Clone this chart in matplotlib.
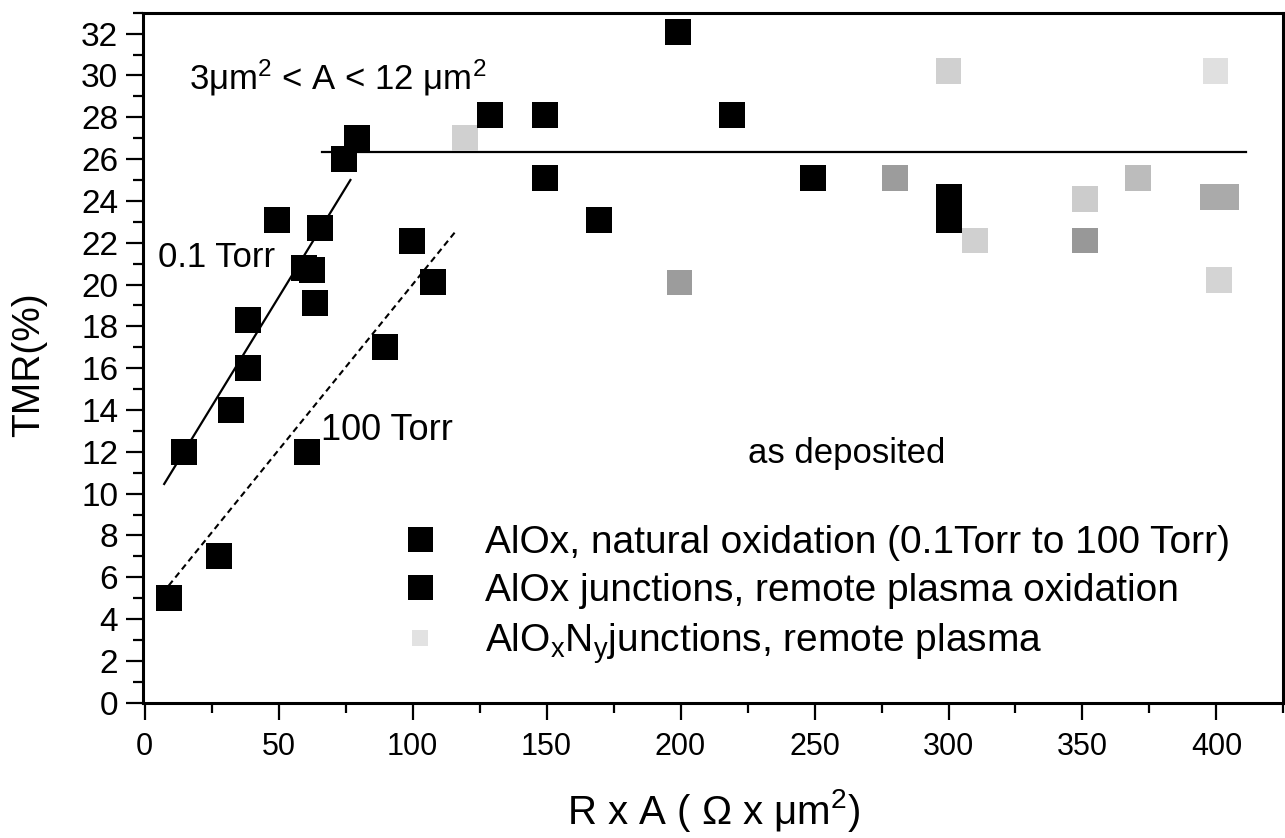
import matplotlib
matplotlib.use('Agg')
import matplotlib.pyplot as plt
from matplotlib.ticker import MultipleLocator
from matplotlib.lines import Line2D

plt.rcParams['font.family'] = ['Liberation Sans', 'DejaVu Sans']
plt.rcParams['mathtext.fontset'] = 'custom'
plt.rcParams['mathtext.rm'] = 'Liberation Sans'
plt.rcParams['mathtext.it'] = 'Liberation Sans'

# AlOx, natural oxidation (0.1 Torr .. 100 Torr)
nat_x = [9.1, 14.7, 27.8, 32.1, 38.4, 38.4, 49.3, 59.5, 62.6, 63.6, 65.4, 60.7, 74.4, 79.4, 89.6, 99.6, 107.7]
nat_y = [5.0, 12.0, 7.0, 14.0, 16.0, 18.3, 23.1, 20.8, 20.7, 19.1, 22.7, 12.0, 26.0, 27.0, 17.0, 22.1, 20.1]

# AlOx junctions, remote plasma oxidation
rpo_x = [129, 149.6, 149.6, 169.7, 199.2, 219.3, 249.5, 300, 300]
rpo_y = [28.1, 28.1, 25.1, 23.1, 32.1, 28.1, 25.1, 24.2, 23.1]

# AlOxNy junctions, remote plasma
aon_x = [119.5, 199.6, 280, 300, 309.9, 350.9, 350.9, 370.8, 398.5, 403.5, 399.6, 401]
aon_y = [27.0, 20.1, 25.1, 30.2, 22.1, 24.1, 22.1, 25.1, 24.2, 24.2, 30.2, 20.2]

# fitted guide lines
fit01_x = [7.3, 76.8]
fit01_y = [10.46, 25.0]
plateau_x = [66.3, 411]
plateau_y = [26.35, 26.35]
fit100_x = [9, 115.8]
fit100_y = [5.6, 22.5]

# grey tones of the scanned AlOxNy symbols
aon_shade = ['#d0d0d0', '#9c9c9c', '#9c9c9c', '#d0d0d0', '#d0d0d0', '#cccccc',
             '#989898', '#bcbcbc', '#aaaaaa', '#aaaaaa', '#e0e0e0', '#d4d4d4']

fig = plt.figure(figsize=(12.85, 8.38), dpi=100)
ax = fig.add_axes([0.1115, 0.1615, 0.8873, 0.8233])

ax.plot(fit01_x, fit01_y, color='black', lw=1.6, zorder=1)
ax.plot(plateau_x, plateau_y, color='black', lw=1.6, zorder=1)
ax.plot(fit100_x, fit100_y, color='black', lw=1.5, ls=(0, (3, 2)), zorder=1)

ax.scatter(aon_x, aon_y, marker='s', s=18.5 ** 2, c=aon_shade, linewidths=0, zorder=2)
ax.plot(nat_x, nat_y, 's', color='black', ms=18.5, mew=0, zorder=3)
ax.plot(rpo_x, rpo_y, 's', color='black', ms=18.5, mew=0, zorder=3)

ax.set_xlim(-0.5, 425)
ax.set_ylim(0, 33)
ax.xaxis.set_major_locator(MultipleLocator(50))
ax.xaxis.set_minor_locator(MultipleLocator(25))
ax.yaxis.set_major_locator(MultipleLocator(2))
ax.yaxis.set_minor_locator(MultipleLocator(1))
ax.tick_params(which='both', direction='out', width=1.6, top=False, right=False)
ax.tick_params(which='major', length=12)
ax.tick_params(which='minor', length=7)
ax.tick_params(axis='y', labelsize=24, pad=6)
ax.tick_params(axis='x', labelsize=22, pad=9)
for sp in ax.spines.values():
    sp.set_linewidth(2.2)

ax.set_ylabel('TMR(%)', fontsize=28)
ax.yaxis.set_label_coords(-0.084, 0.49)
ax.set_xlabel('R x A ( \u03a9 x \u03bcm$^2$)', fontsize=29, labelpad=18)

ax.text(16.5, 29.9, '3\u03bcm$^2$ < A < 12 \u03bcm$^2$', fontsize=25, va='center')
ax.text(4.9, 21.3, '0.1 Torr', fontsize=25, va='center')
ax.text(65.7, 13.0, '100 Torr', fontsize=26, va='center')
ax.text(225.3, 11.9, 'as deposited', fontsize=25, va='center')

handles = [Line2D([], [], ls='none', marker='s', ms=18, mew=0, color='black'),
           Line2D([], [], ls='none', marker='s', ms=18, mew=0, color='black'),
           Line2D([], [], ls='none', marker='s', ms=12, mew=0, color='#e2e2e2')]
labels = ['AlOx, natural oxidation (0.1Torr to 100 Torr)',
          'AlOx junctions, remote plasma oxidation',
          'AlO$_x$N$_y$junctions, remote plasma']
fig.legend(handles, labels, loc='upper left', bbox_to_anchor=(0.3117, 0.3735),
           frameon=False, fontsize=28, handlelength=1.0, handletextpad=1.17,
           borderpad=0, borderaxespad=0, labelspacing=0.31)

fig.savefig('out.png', dpi=100)
